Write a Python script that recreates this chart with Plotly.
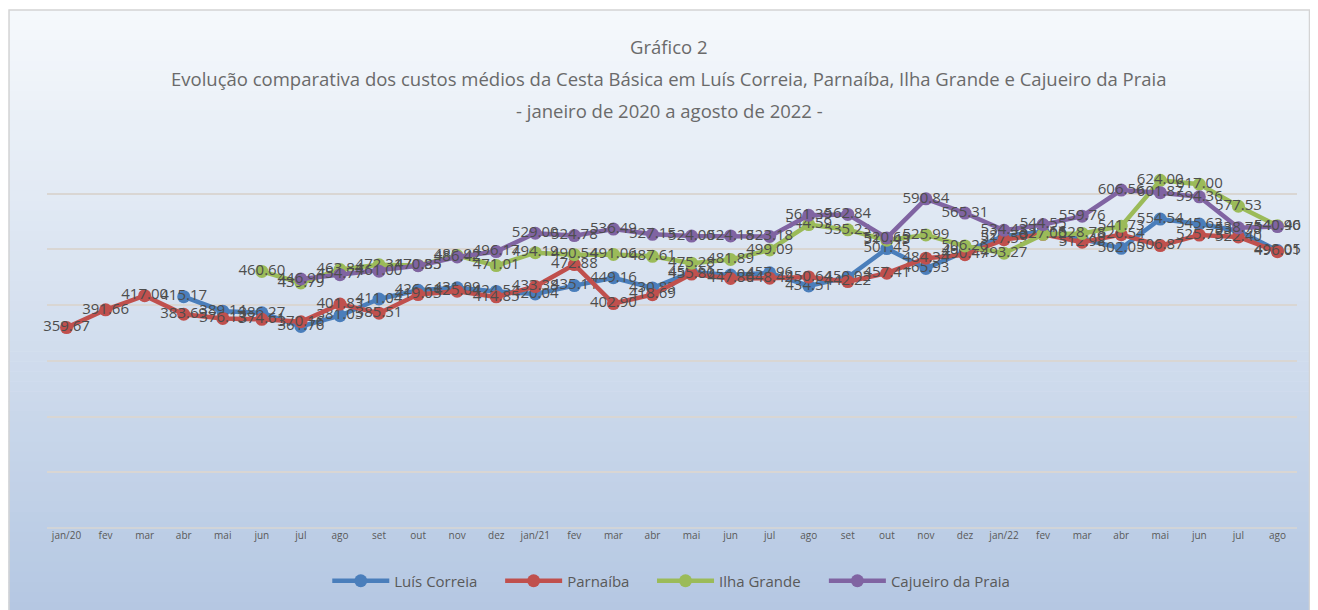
import plotly.graph_objects as go

months = ["jan/20", "fev", "mar", "abr", "mai", "jun", "jul", "ago", "set", "out", "nov", "dez",
          "jan/21", "fev", "mar", "abr", "mai", "jun", "jul", "ago", "set", "out", "nov", "dez",
          "jan/22", "fev", "mar", "abr", "mai", "jun", "jul", "ago"]

luis_correia = [None, None, None, 415.17, 389.14, 386.27, 361.76, 381.05, 411.04, 426.61, 431.09, 424.54,
                420.04, 435.11, 449.16, 430.83, 459.61, 454.04, 457.96, 434.51, 450.02, 501.45, 465.93, 496.24,
                524.30, 531.66, 518.40, 502.05, 554.54, 545.63, 533.56, 498.05]
parnaiba = [359.67, 391.66, 417.00, 383.69, 376.13, 374.61, 370.16, 401.83, 385.51, 419.03, 425.04, 414.85,
            433.38, 472.88, 402.90, 418.69, 455.80, 447.80, 448.42, 450.64, 442.22, 457.41, 484.34, 490.47,
            517.59, 527.12, 512.98, 526.54, 506.87, 525.75, 522.40, 496.01]
ilha_grande = [None, None, None, None, None, 460.60, 439.79, 463.84, 472.31, 471.35, 488.92, 471.01,
               494.19, 490.54, 491.06, 487.61, 475.28, 481.89, 499.09, 544.59, 535.23, 516.43, 525.99, 506.26,
               493.27, 527.06, 528.78, 541.73, 624.00, 617.00, 577.53, 542.40]
cajueiro = [None, None, None, None, None, None, 446.90, 454.77, 461.00, 470.85, 486.42, 496.17,
            529.00, 524.78, 536.49, 527.15, 524.00, 524.18, 523.18, 561.39, 562.84, 520.65, 590.84, 565.31,
            534.43, 544.55, 559.76, 606.56, 601.87, 594.36, 538.75, 540.96]

series = [
    ("Luís Correia", luis_correia, "#4a7ebb"),
    ("Parnaíba", parnaiba, "#c0504d"),
    ("Ilha Grande", ilha_grande, "#9bbb59"),
    ("Cajueiro da Praia", cajueiro, "#8064a2"),
]
legend_ids = ["legend", "legend2", "legend3", "legend4"]
legend_x_px = [327, 500, 652, 824]

OFF = 8  # page body margin
W, H = 1318 - OFF, 610 - OFF
# plot area in page pixels
L, R, T, B = 46.5, 1297.5, 138, 528
PW, PH = R - L, B - T

def px(x):
    return (x - L) / PW

def py(y):
    return (B - y) / PH

x_idx = list(range(len(months)))

fig = go.Figure()
for (name, vals, col), lid in zip(series, legend_ids):
    fig.add_trace(go.Scatter(
        x=x_idx, y=vals, name=name, mode="lines+markers+text",
        line=dict(color=col, width=4.5),
        marker=dict(color=col, size=13),
        texttemplate="%{y:.2f}", textposition="middle center",
        textfont=dict(family="Open Sans", size=15, color="#4d4d4d"),
        cliponaxis=False, connectgaps=False, legend=lid,
    ))

# background gradient
shapes = []
top, bot = 10, 612
c0 = (246, 249, 252)
c1 = (180, 199, 226)
n = 60
for i in range(n):
    y0 = top + (bot - top) * i / n
    y1 = top + (bot - top) * (i + 1) / n + 0.6
    t = (i + 0.5) / n
    c = tuple(round(c0[k] + (c1[k] - c0[k]) * t) for k in range(3))
    shapes.append(dict(type="rect", xref="paper", yref="paper", layer="below",
                       x0=px(8), x1=px(1310), y0=py(y1), y1=py(y0),
                       line=dict(width=0), fillcolor="rgb(%d,%d,%d)" % c))
shapes.append(dict(type="rect", xref="paper", yref="paper", layer="below",
                   x0=px(8.5), x1=px(1310), y0=py(bot), y1=py(top),
                   line=dict(width=1.5, color="#d4d4d4"), fillcolor="rgba(0,0,0,0)"))
shapes.append(dict(type="line", xref="paper", yref="paper", x0=0, x1=1, y0=0, y1=0,
                   line=dict(color="#d9d6d3", width=1.5)))

title_font = dict(family="Open Sans", size=18.5, color="#6a6a6a")
annotations = [
    dict(text="Gráfico 2", x=px(669), y=py(47)),
    dict(text="Evolução comparativa dos custos médios da Cesta Básica em Luís Correia, Parnaíba, Ilha Grande e Cajueiro da Praia",
         x=px(669), y=py(78)),
    dict(text="- janeiro de 2020 a agosto de 2022 -", x=px(669), y=py(110)),
]
annotations = [dict(a, xref="paper", yref="paper", showarrow=False, xanchor="center",
                    yanchor="middle", font=title_font) for a in annotations]

legend_layout = {}
for lid, lx in zip(legend_ids, legend_x_px):
    legend_layout[lid] = dict(orientation="h", x=px(lx), xanchor="left", y=py(581), yanchor="middle",
                              font=dict(family="Open Sans", size=15, color="#595959"),
                              bgcolor="rgba(0,0,0,0)", itemwidth=57)

fig.update_layout(
    width=W, height=H,
    margin=dict(l=L - OFF, r=W + OFF - R, t=T - OFF, b=H + OFF - B, autoexpand=False),
    paper_bgcolor="white", plot_bgcolor="rgba(0,0,0,0)",
    shapes=shapes, annotations=annotations,
    showlegend=True,
    xaxis=dict(range=[-0.5, len(months) - 0.5], tickmode="array", tickvals=x_idx, ticktext=months,
               showgrid=False, zeroline=False, showline=False, ticks="",
               tickfont=dict(family="Open Sans", size=10, color="#595959")),
    yaxis=dict(range=[0, 700], dtick=100, showticklabels=False, showgrid=True,
               gridcolor="#d9d6d3", gridwidth=1.5, zeroline=False, showline=False),
    **legend_layout,
)

fig.write_html("out.html")
